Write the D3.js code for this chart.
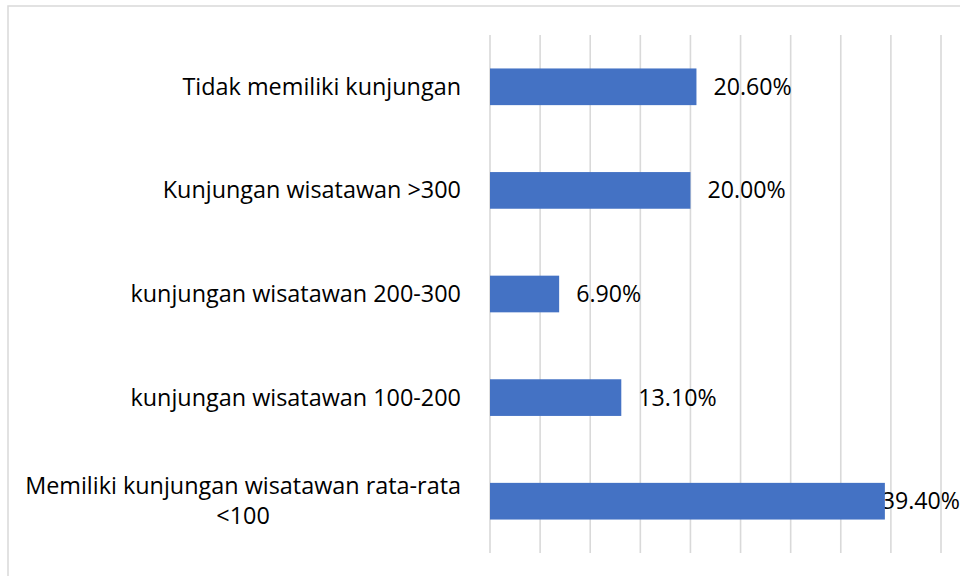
<!DOCTYPE html>
<html>
<head>
<meta charset="utf-8">
<script src="https://cdn.jsdelivr.net/npm/d3@7"></script>
<style>
  body { margin: 0; background: #fff; }
  svg { display: block; font-family: "Open Sans", "Noto Sans", sans-serif; }
</style>
</head>
<body>
<script>
var width = 960;
var height = 576;

// data
var categories = [
  "Tidak memiliki kunjungan",
  "Kunjungan wisatawan >300",
  "kunjungan wisatawan 200-300",
  "kunjungan wisatawan 100-200",
  "Memiliki kunjungan wisatawan rata-rata <100"
];
var values = [20.6, 20.0, 6.9, 13.1, 39.4];
var xTicks = [0, 5, 10, 15, 20, 25, 30, 35, 40, 45];

var svg = d3.select("body")
            .append("svg")
            .attr("width", width)
            .attr("height", height);

// chart frame (runs off the right and bottom edges)
svg.append("rect")
   .attr("x", 8)
   .attr("y", 6)
   .attr("width", width + 20)
   .attr("height", height + 20)
   .attr("fill", "none")
   .attr("stroke", "#d9d9d9")
   .attr("stroke-width", 1.5);

var x = d3.scaleLinear()
          .domain([0, 45])
          .range([490, 941]);

var y = d3.scaleBand()
          .domain(categories)
          .range([35, 553])
          .paddingInner(0.646)
          .paddingOuter(0.323);

// vertical gridlines
svg.selectAll("line.grid")
   .data(xTicks)
   .enter()
   .append("line")
   .attr("class", "grid")
   .attr("x1", function(d) { return x(d); })
   .attr("x2", function(d) { return x(d); })
   .attr("y1", 35)
   .attr("y2", 553)
   .style("stroke", "#d9d9d9")
   .style("stroke-width", 1.6);

var rows = categories.map(function(c, i) { return {cat: c, val: values[i]}; });

// value labels (drawn before bars, the bar covers an overflowing label)
var vlab = svg.selectAll("text.val")
   .data(rows)
   .enter()
   .append("text")
   .attr("class", "val")
   .attr("y", function(d) { return y(d.cat) + y.bandwidth() / 2 + 8; })
   .attr("font-size", "23.2px")
   .attr("fill", "#000")
   .text(function(d) { return d.val.toFixed(2) + "%"; });

vlab.attr("x", function(d) {
  var w = this.getComputedTextLength();
  return Math.min(x(d.val) + 17, width - w);
});

// bars
svg.selectAll("rect.bar")
   .data(rows)
   .enter()
   .append("rect")
   .attr("class", "bar")
   .attr("x", x(0))
   .attr("y", function(d) { return y(d.cat); })
   .attr("width", function(d) { return x(d.val) - x(0); })
   .attr("height", y.bandwidth())
   .attr("fill", "#4472c4");

// category labels, wrapped and centred on their widest line, right edge near the axis
var labelRight = 461;
var maxLabel = 450;
var lineH = 30;

rows.forEach(function(d) {
  var g = svg.append("text")
             .attr("font-size", "23.4px")
             .attr("fill", "#000")
             .attr("text-anchor", "middle");
  // word wrap
  var words = d.cat.split(" ");
  var lines = [];
  var cur = [];
  var probe = g.append("tspan");
  words.forEach(function(w) {
    cur.push(w);
    probe.text(cur.join(" "));
    if (probe.node().getComputedTextLength() > maxLabel && cur.length > 1) {
      cur.pop();
      lines.push(cur.join(" "));
      cur = [w];
    }
  });
  lines.push(cur.join(" "));
  probe.remove();

  var widest = 0;
  var cy = y(d.cat) + y.bandwidth() / 2;
  var spans = lines.map(function(l, i) {
    var t = g.append("tspan")
             .attr("y", cy - (lines.length - 1) * lineH / 2 + i * lineH + 8)
             .text(l);
    widest = Math.max(widest, t.node().getComputedTextLength());
    return t;
  });
  spans.forEach(function(t) { t.attr("x", labelRight - widest / 2); });
});
</script>
</body>
</html>
